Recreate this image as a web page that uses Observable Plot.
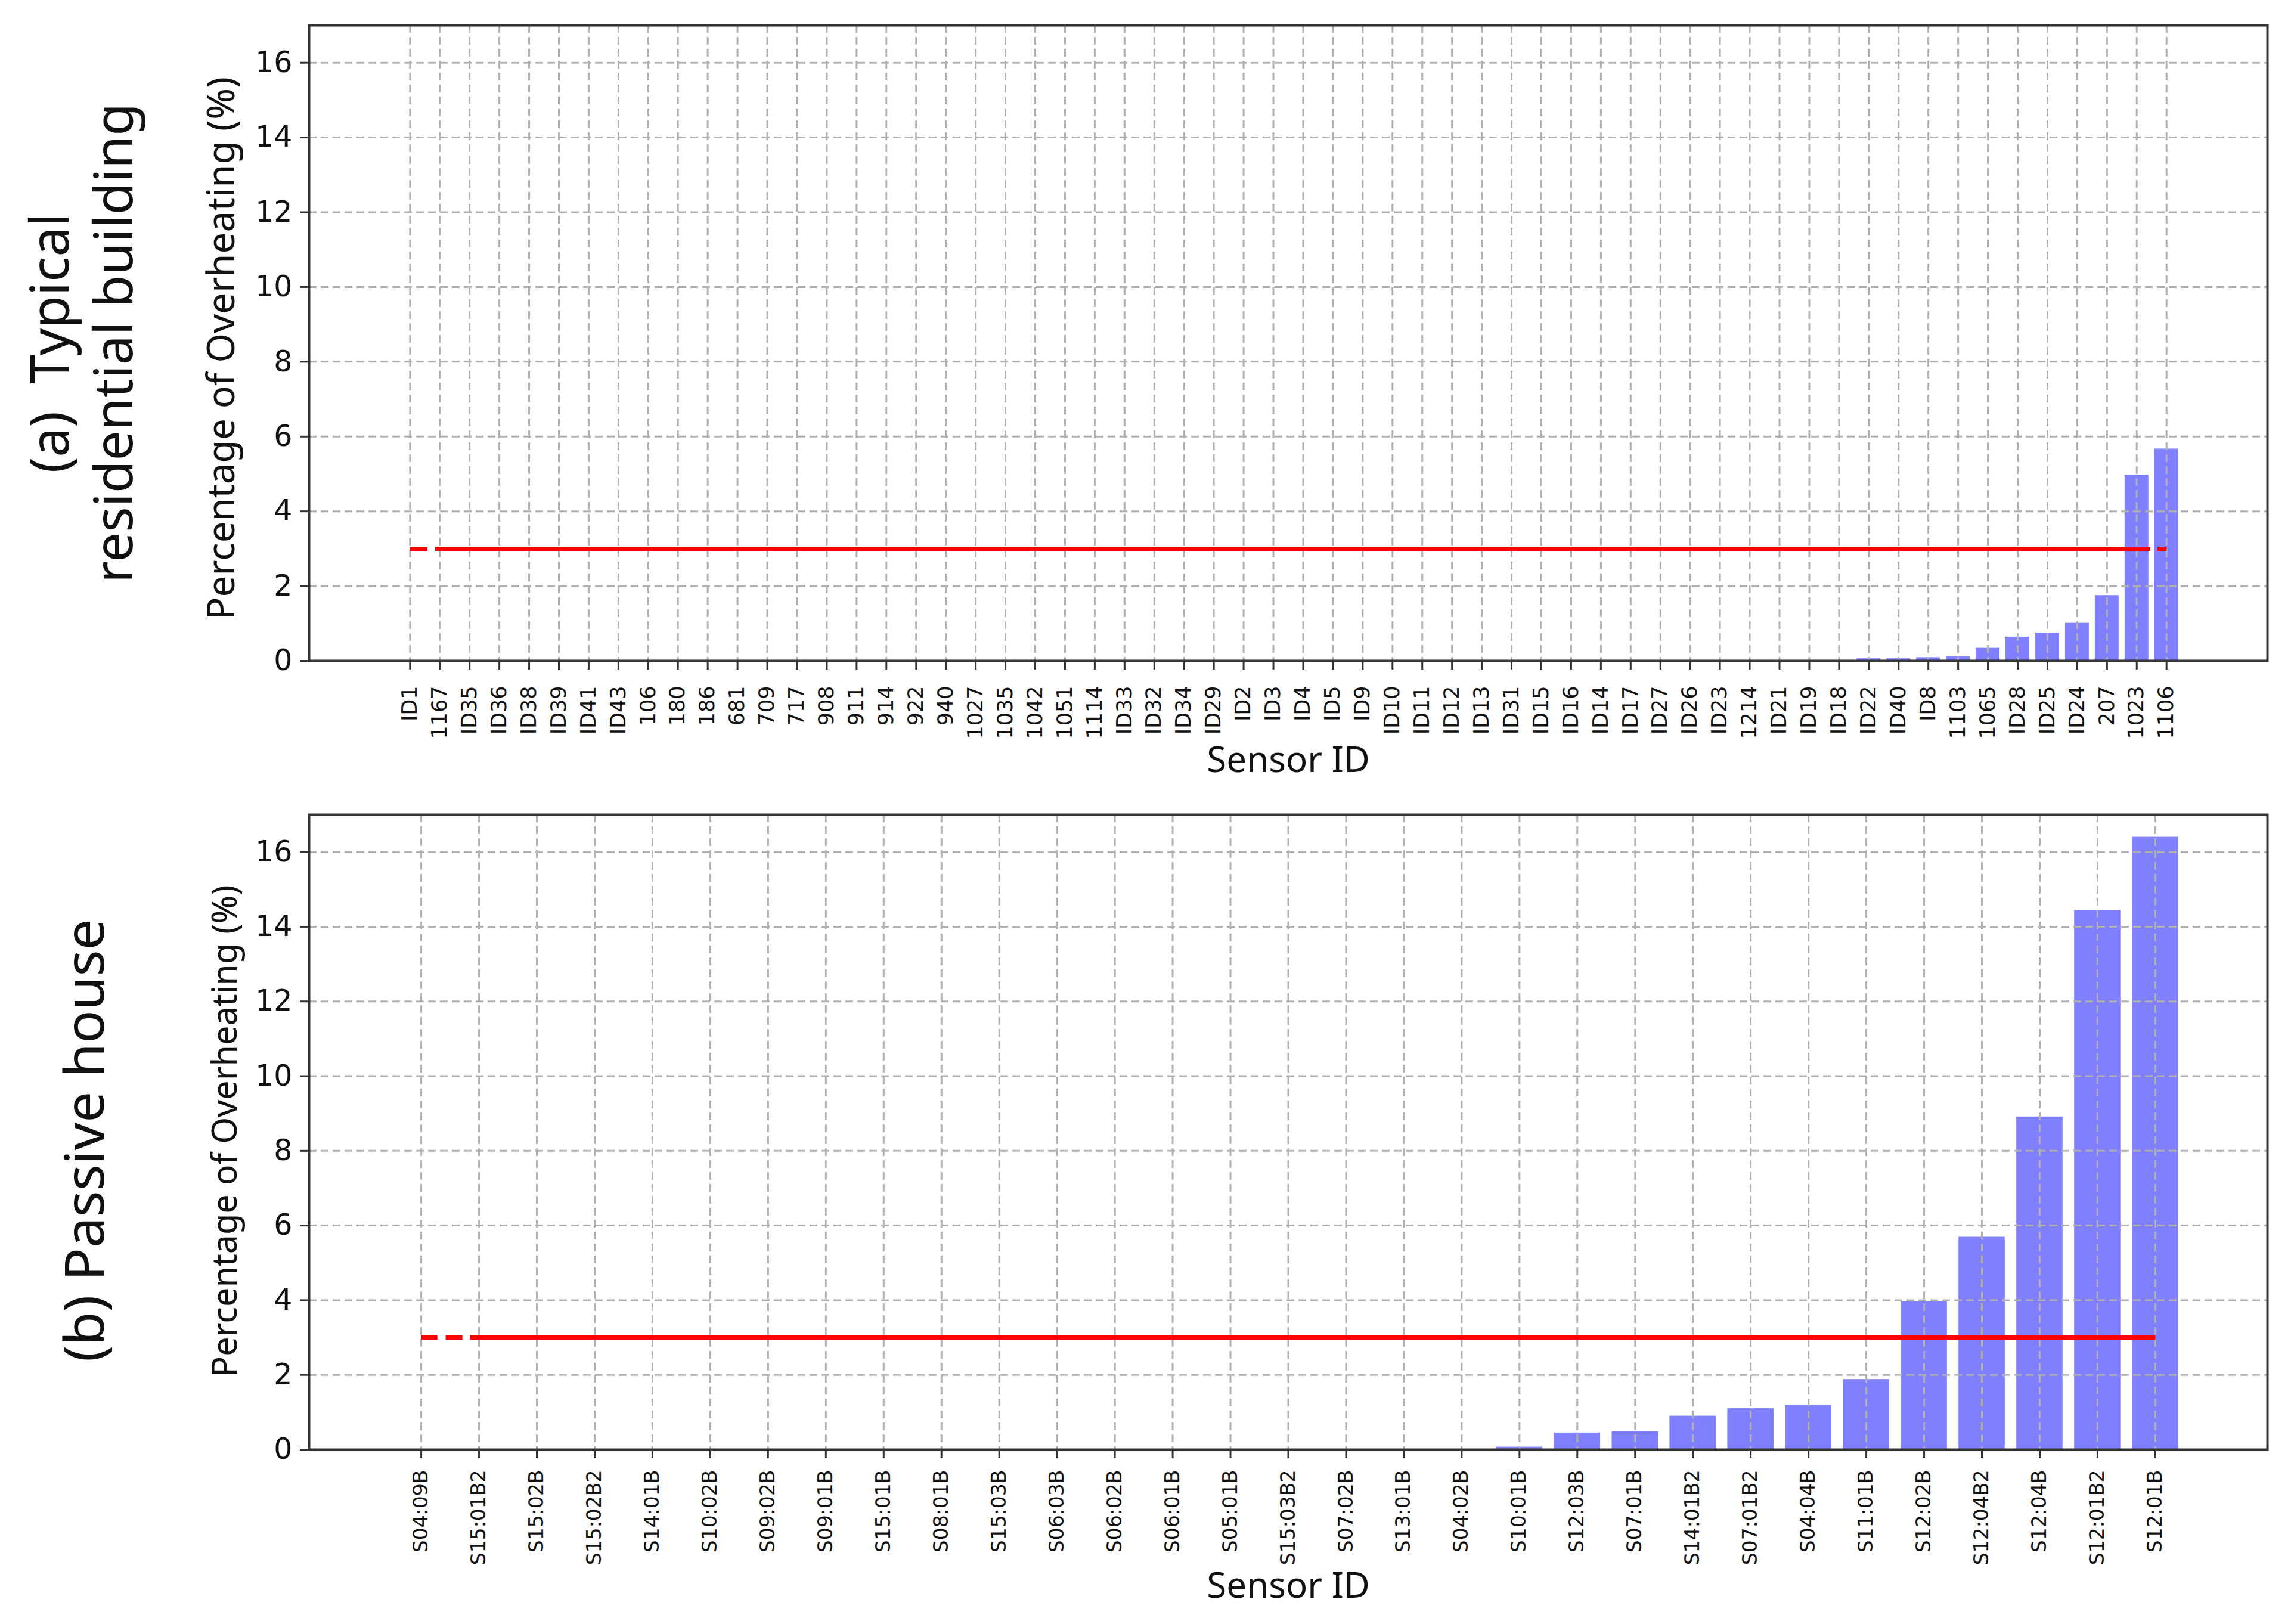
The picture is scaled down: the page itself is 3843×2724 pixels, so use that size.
<!DOCTYPE html>
<html>
<head>
<meta charset="utf-8">
<script src="https://cdn.jsdelivr.net/npm/d3@7"></script>
<script src="https://cdn.jsdelivr.net/npm/@observablehq/plot@0.6"></script>
<style>
  html, body { margin: 0; padding: 0; background: #fff; }
  #chart { width: 3843px; height: 2724px; background: #fff; }
  svg { display: block; }
</style>
</head>
<body>
<div id="chart"></div>
<script>
// ---- Data ----
const typicalIds = ["ID1","1167","ID35","ID36","ID38","ID39","ID41","ID43","106","180","186","681","709","717","908","911","914","922","940","1027","1035","1042","1051","1114","ID33","ID32","ID34","ID29","ID2","ID3","ID4","ID5","ID9","ID10","ID11","ID12","ID13","ID31","ID15","ID16","ID14","ID17","ID27","ID26","ID23","1214","ID21","ID19","ID18","ID22","ID40","ID8","1103","1065","ID28","ID25","ID24","207","1023","1106"];
const typicalValues = [0,0,0,0,0,0,0,0,0,0,0,0,0,0,0,0,0,0,0,0,0,0,0,0,0,0,0,0,0,0,0,0,0,0,0,0,0,0,0,0,0,0,0,0,0,0,0,0,0,0.06,0.06,0.09,0.11,0.34,0.64,0.75,1.01,1.75,4.97,5.67];

const passiveIds = ["S04:09B","S15:01B2","S15:02B","S15:02B2","S14:01B","S10:02B","S09:02B","S09:01B","S15:01B","S08:01B","S15:03B","S06:03B","S06:02B","S06:01B","S05:01B","S15:03B2","S07:02B","S13:01B","S04:02B","S10:01B","S12:03B","S07:01B","S14:01B2","S07:01B2","S04:04B","S11:01B","S12:02B","S12:04B2","S12:04B","S12:01B2","S12:01B"];
const passiveValues = [0,0,0,0,0,0,0,0,0,0,0,0,0,0,0,0,0,0,0,0.07,0.45,0.48,0.90,1.10,1.19,1.88,3.96,5.69,8.91,14.44,16.40];

const threshold = 3;
const yTicks = [0, 2, 4, 6, 8, 10, 12, 14, 16];
const yDomain = [0, 17];
const panelTitles = ["(a)  Typical\nresidential building", "(b) Passive house"];
const yLabel = "Percentage of Overheating (%)";
const xLabel = "Sensor ID";

function panel(o) {
  const data = o.ids.map((id, i) => ({id, value: o.values[i]}));
  return Plot.plot({
    width: 3843,
    height: o.height,
    marginLeft: 518,
    marginRight: 40,
    marginTop: o.marginTop,
    marginBottom: o.marginBottom,
    style: {background: "#fff", fontFamily: "DejaVu Sans", overflow: "visible", color: "#000"},
    x: {type: "band", domain: o.ids, paddingInner: 0.2, paddingOuter: o.paddingOuter, align: 0.5, round: false},
    y: {domain: yDomain},
    marks: [
      Plot.barY(data, {x: "id", y: "value", fill: "#8080ff"}),
      Plot.gridX({stroke: "#b0b0b0", strokeOpacity: 1, strokeWidth: 3, strokeDasharray: "13,7"}),
      Plot.gridY(yTicks, {stroke: "#b0b0b0", strokeOpacity: 1, strokeWidth: 3, strokeDasharray: "13,7"}),
      Plot.lineY(data, {x: "id", y: () => threshold, stroke: "#ff0000", strokeWidth: 7, strokeDasharray: o.dash, strokeLinecap: "butt"}),
      Plot.axisX({tickRotate: -90, tickSize: 15, tickPadding: o.tickPadding, fontSize: o.tickFont, fontFamily: "DejaVu Sans", label: null, stroke: "#333", strokeWidth: 3, fill: "#111"}),
      Plot.axisY(yTicks, {tickSize: 15, tickPadding: 13, fontSize: 49, fontFamily: "DejaVu Sans", label: null, stroke: "#333", strokeWidth: 3, fill: "#111", tickFormat: d => String(d)}),
      Plot.frame({stroke: "#333", strokeWidth: 4}),
      Plot.text([yLabel], {text: d => d, frameAnchor: "left", textAnchor: "middle", lineAnchor: "middle", dx: o.yLabelDx, dy: o.yLabelDy, rotate: -90, fontSize: o.yLabelFont, fontFamily: "Noto Sans", fill: "#111"}),
      Plot.text([xLabel], {text: d => d, frameAnchor: "bottom", textAnchor: "middle", lineAnchor: "middle", dy: o.xLabelDy, fontSize: 60, fontFamily: "Noto Sans", fill: "#111"}),
      Plot.text([o.title], {text: d => d, frameAnchor: "left", textAnchor: "middle", lineAnchor: "middle", dx: o.titleDx, dy: o.titleDy, rotate: -90, fontSize: o.titleFont, lineHeight: 1.2, fontFamily: "Noto Sans", fill: "#111"})
    ]
  });
}

const chart = document.getElementById("chart");
chart.append(panel({
  ids: typicalIds, values: typicalValues, title: panelTitles[0],
  height: 1320, marginTop: 42, marginBottom: 212, paddingOuter: 2.99,
  tickFont: 35, tickPadding: 27, dash: "29,13,2877,12,200",
  yLabelDx: -146, yLabelDy: 9, yLabelFont: 63.5, xLabelDy: 167,
  titleDx: -384, titleDy: 0, titleFont: 89
}));
chart.append(panel({
  ids: passiveIds, values: passiveValues, title: panelTitles[1],
  height: 1404, marginTop: 46, marginBottom: 293, paddingOuter: 1.54,
  tickFont: 33, tickPadding: 19, dash: "27,14,28,13,4000",
  yLabelDx: -140, yLabelDy: -2, yLabelFont: 57.5, xLabelDy: 229,
  titleDx: -380, titleDy: 14, titleFont: 92
}));
</script>
</body>
</html>
